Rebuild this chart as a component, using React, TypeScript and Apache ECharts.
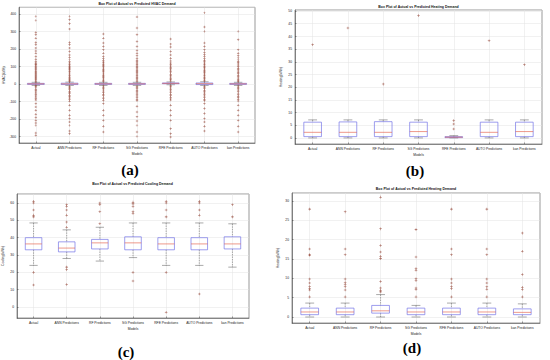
import React, { useEffect, useRef } from 'react';
import * as echarts from 'echarts';

const categories = ['Actual', 'ANN Predictions', 'RF Predictions', 'SG Predictions', 'RFE Predictions', 'AUTO Predictions', 'kan Predictions'];

// [lower whisker, Q1, median, Q3, upper whisker]
const hvacBoxes = [
  [-8, -2, 1, 4, 10],
  [-8, -3, 1, 5, 11],
  [-8, -2, 1, 4, 10],
  [-8, -2, 1, 4, 10],
  [-4, 2, 4, 6, 12],
  [-8, -3, 2, 6, 13],
  [-8, -2, 1, 4, 10],
];
const hvacOutliers = [
  [388, 365, 296, 283, 263, 238, 225, 206, 190, 177, 158, 142, 129, 121, 115, 110, 104, 98, 92, 86, 80, 74, 68, 62, 55, 48, 42, 36, 30, 24, 18, 12, -10, -16, -22, -30, -38, -45, -52, -60, -68, -75, -84, -92, -112, -131, -150, -173, -192, -208, -223, -237, -281, -294],
  [388, 369, 346, 315, 238, 225, 206, 187, 167, 154, 140, 128, 120, 113, 107, 101, 95, 89, 83, 77, 70, 64, 57, 50, 44, 38, 31, 25, 19, 13, -12, -18, -25, -33, -41, -48, -56, -64, -72, -80, -89, -98, -121, -150, -179, -198, -217, -237, -269, -285],
  [287, 263, 235, 215, 196, 177, 158, 145, 135, 127, 120, 113, 106, 99, 92, 85, 78, 71, 64, 57, 50, 43, 36, 29, 22, 15, -11, -18, -26, -34, -42, -50, -58, -66, -75, -84, -94, -112, -150, -179, -208, -242, -275],
  [385, 321, 283, 244, 215, 192, 177, 162, 148, 137, 128, 121, 114, 107, 100, 93, 86, 79, 72, 65, 58, 51, 44, 37, 30, 23, 16, -12, -19, -27, -35, -43, -51, -60, -69, -78, -87, -96, -127, -160, -188, -212, -237, -275, -300],
  [258, 229, 212, 187, 167, 148, 132, 120, 112, 104, 96, 88, 80, 72, 64, 56, 48, 40, 32, 24, 18, -8, -15, -23, -31, -40, -49, -58, -67, -76, -85, -92, -121, -150, -179, -208, -256, -285, -304],
  [408, 327, 302, 235, 215, 196, 181, 168, 157, 146, 137, 129, 121, 114, 107, 100, 93, 86, 79, 72, 65, 58, 51, 44, 37, 30, 23, 17, -12, -19, -27, -35, -43, -51, -60, -69, -78, -87, -96, -112, -140, -169, -198, -217, -242, -269],
  [302, 254, 196, 177, 162, 150, 140, 131, 123, 115, 107, 99, 91, 83, 75, 67, 59, 51, 43, 35, 27, 19, 13, -11, -18, -26, -34, -43, -52, -61, -70, -79, -88, -97, -121, -150, -179, -208, -242, -275],
];

const heatBBoxes = [
  [0, 0.5, 2.2, 6.2, 7.1],
  [0, 0.5, 2.2, 6.3, 7.1],
  [0, 0.5, 2.2, 6.4, 7.1],
  [0, 0.5, 2.5, 6.2, 7.1],
  [0, 0.1, 0.3, 0.5, 0.9],
  [0, 0.5, 2.2, 6.2, 7.1],
  [0, 0.5, 2.5, 6.2, 7.1],
];
const heatBOutliers = [[36.7], [43.3], [21.2], [48.2], [3.5, 5.5, 6.8], [38.3], [28.8]];

const coolBoxes = [
  [24, 33, 36.4, 40, 48.5],
  [28, 31.8, 34, 37.6, 44.5],
  [26.5, 33.5, 37, 39, 46],
  [28.5, 33, 37, 40.5, 48.5],
  [24, 33, 36.4, 40, 48.5],
  [24, 33, 36.4, 40, 48.5],
  [23, 33.5, 36.4, 40.5, 48],
];
const coolOutliers = [
  [61, 60, 56, 53, 52, 20, 12.7],
  [59, 58, 56, 53, 49, 46, 23, 21.5, 13],
  [60, 59, 55, 48],
  [60.5, 59.5, 58, 55, 54, 20, 15],
  [61, 60, 56, 52, 20, -3],
  [61, 60, 56, 53, 7.5],
  [59, 52],
];

const heatDBoxes = [
  [0, 0.6, 1.3, 2.3, 3.6],
  [0, 0.6, 1.3, 2.3, 3.6],
  [0, 1.0, 1.6, 3.0, 5.8],
  [0, 0.6, 1.3, 2.3, 3.0],
  [0, 0.6, 1.3, 2.3, 3.6],
  [0, 0.6, 1.3, 2.3, 3.6],
  [0, 0.6, 1.2, 2.1, 3.4],
];
const heatDOutliers = [
  [27.9, 17.6, 16.1, 16.0, 9.8, 8.8, 7.9, 7.3, 7.0, 5.2],
  [27.2, 17.6, 16.1, 9.8, 8.9, 8.4, 7.8, 7.0, 5.2],
  [31, 22.8, 18.5, 16.8, 15.7, 15.1, 9.2, 7.5, 6.9, 6.5],
  [22.6, 15.5, 12.5, 12.1, 9.9, 9.4, 7.5, 7.1, 5.2],
  [27.9, 17.6, 16.1, 9.8, 8.8, 7.9, 7.3, 5.2],
  [27.9, 17.6, 16.1, 9.8, 8.8, 7.8, 7.2, 5.2],
  [21.7, 17.0, 11.0, 7.7, 7.1, 5.2],
];

const BOX = '#7474e6';
const MED = '#e2553c';
const WHISK = '#555';
const OUT = '#8e3a2a';
const FONT = 'Liberation Sans';
const FS = 3.3;

const panels = [
  { title: 'Box Plot of Actual vs Predicted HVAC Demand', yName: 'HVAC(kWh)', boxes: hvacBoxes, outliers: hvacOutliers,
    grid: { left: 19, top: 7.3, width: 236, height: 135.7 }, min: -338, max: 440, step: 100, tag: '(a)', tagPos: [130, 170], titleY: 4, sym: 2.4 },
  { title: 'Box Plot of Actual vs Predicted Heating Demand', yName: 'Heating(kWh)', boxes: heatBBoxes, outliers: heatBOutliers,
    grid: { left: 295, top: 10, width: 247, height: 134 }, min: -2.4, max: 50.4, step: 5, tag: '(b)', tagPos: [415, 171], titleY: 7, sym: 2.6 },
  { title: 'Box Plot of Actual vs Predicted Cooling Demand', yName: 'Cooling(kWh)', boxes: coolBoxes, outliers: coolOutliers,
    grid: { left: 16, top: 194, width: 233, height: 124 }, min: -6.35, max: 65.2, step: 10, tag: '(c)', tagPos: [126, 352], titleY: 184, sym: 2.6 },
  { title: 'Box Plot of Actual vs Predicted Heating Demand', yName: 'Heating(kWh)', boxes: heatDBoxes, outliers: heatDOutliers,
    grid: { left: 292, top: 193, width: 248, height: 130 }, min: -1.55, max: 32.07, step: 5, tag: '(d)', tagPos: [412, 348], titleY: 189, sym: 2.6 },
];

function renderBox(params: any, api: any) {
  const i = api.value(0);
  const lo = api.coord([i, api.value(1)]);
  const q1 = api.coord([i, api.value(2)]);
  const med = api.coord([i, api.value(3)]);
  const q3 = api.coord([i, api.value(4)]);
  const hi = api.coord([i, api.value(5)]);
  const band = api.size([1, 0])[0];
  const bw = band * 0.5;
  const cw = band * 0.25;
  const cx = med[0];
  const dash = { stroke: WHISK, lineWidth: 0.5, lineDash: [1.5, 1] };
  const solid = { stroke: WHISK, lineWidth: 0.5 };
  return {
    type: 'group',
    children: [
      { type: 'line', shape: { x1: cx, y1: hi[1], x2: cx, y2: q3[1] }, style: dash },
      { type: 'line', shape: { x1: cx, y1: q1[1], x2: cx, y2: lo[1] }, style: dash },
      { type: 'line', shape: { x1: cx - cw / 2, y1: hi[1], x2: cx + cw / 2, y2: hi[1] }, style: solid },
      { type: 'line', shape: { x1: cx - cw / 2, y1: lo[1], x2: cx + cw / 2, y2: lo[1] }, style: solid },
      { type: 'rect', shape: { x: cx - bw / 2, y: q3[1], width: bw, height: Math.max(q1[1] - q3[1], 0.5) }, style: { fill: 'none', stroke: BOX, lineWidth: 0.7 } },
      { type: 'line', shape: { x1: cx - bw / 2, y1: med[1], x2: cx + bw / 2, y2: med[1] }, style: { stroke: MED, lineWidth: 0.6 } },
    ],
  };
}

export default function App() {
  const ref = useRef<HTMLDivElement>(null);
  useEffect(() => {
    if (!ref.current) return;
    const chart = echarts.init(ref.current, undefined, { renderer: 'svg' });
    const grid: any[] = [];
    const xAxis: any[] = [];
    const yAxis: any[] = [];
    const series: any[] = [];
    const graphic: any[] = [];
    panels.forEach((p, k) => {
      grid.push({ ...p.grid, show: true, borderColor: '#333', borderWidth: 0.5, backgroundColor: '#fff' });
      xAxis.push({
        type: 'category', gridIndex: k, data: categories, boundaryGap: true,
        name: 'Models', nameLocation: 'middle', nameGap: 9,
        nameTextStyle: { fontSize: FS, fontFamily: FONT, color: '#222' },
        axisLine: { onZero: false, lineStyle: { color: '#333', width: 0.5 } },
        axisTick: { show: true, alignWithLabel: true, inside: true, length: 1.5, lineStyle: { color: '#333', width: 0.5 } },
        axisLabel: { fontSize: FS, fontFamily: FONT, color: '#222', margin: 3, interval: 0 },
        splitLine: { show: true, alignWithLabel: true, lineStyle: { color: '#e2e2e2', width: 0.5 } },
      });
      yAxis.push({
        type: 'value', gridIndex: k, min: p.min, max: p.max, splitNumber: 10,
        minInterval: p.step, maxInterval: p.step,
        name: p.yName, nameLocation: 'middle', nameGap: 13,
        nameTextStyle: { fontSize: FS, fontFamily: FONT, color: '#222' },
        axisLine: { show: true, onZero: false, lineStyle: { color: '#333', width: 0.5 } },
        axisTick: { show: true, inside: true, length: 1.5, lineStyle: { color: '#333', width: 0.5 } },
        axisLabel: { fontSize: FS, fontFamily: FONT, color: '#222', margin: 3, showMinLabel: false, showMaxLabel: false },
        splitLine: { show: true, lineStyle: { color: '#e2e2e2', width: 0.5 } },
      });
      series.push({
        type: 'custom', xAxisIndex: k, yAxisIndex: k, renderItem: renderBox,
        encode: { x: 0, y: [1, 2, 3, 4, 5] },
        data: p.boxes.map((b, i) => [i, ...b]), z: 2,
      });
      series.push({
        type: 'scatter', xAxisIndex: k, yAxisIndex: k,
        symbol: 'path://M2,0H3V2H5V3H3V5H2V3H0V2H2Z', symbolSize: p.sym,
        itemStyle: { color: OUT },
        data: p.outliers.flatMap((vals, i) => vals.map((v) => [i, v])), z: 3,
      });
      graphic.push({
        type: 'text', x: p.grid.left + p.grid.width / 2, y: p.titleY,
        style: { text: p.title, fontSize: FS + 0.2, fontWeight: 'bold', fontFamily: FONT, fill: '#111', align: 'center', verticalAlign: 'middle' },
      });
      graphic.push({
        type: 'text', x: p.tagPos[0], y: p.tagPos[1],
        style: { text: p.tag, fontSize: 15, fontWeight: 'bold', fontFamily: 'Liberation Serif', fill: '#000', align: 'center', verticalAlign: 'middle' },
      });
    });
    chart.setOption({ animation: false, backgroundColor: '#fff', grid, xAxis, yAxis, series, graphic });
    return () => chart.dispose();
  }, []);
  return <div ref={ref} style={{ position: 'fixed', left: 0, top: 0, width: 550, height: 360, background: '#fff' }} />;
}
